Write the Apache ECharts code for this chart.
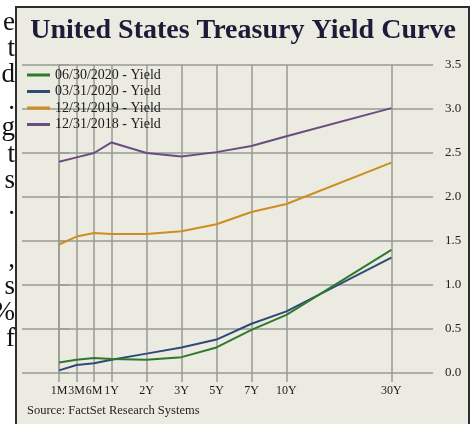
<!DOCTYPE html>
<html>
<head>
<meta charset="utf-8">
<script src="https://cdn.jsdelivr.net/npm/echarts@6/dist/echarts.min.js"></script>
<style>
html,body{margin:0;padding:0;background:#fff;}
#chart{width:474px;height:424px;}
</style>
</head>
<body>
<div id="chart"></div>
<script>
// maturities and where they sit on the (uneven) x scale
var tenorLabels=['1M','3M','6M','1Y','2Y','3Y','5Y','7Y','10Y','30Y'];
var tenorPos=[0,0.5,1,1.5,2.5,3.5,4.5,5.5,6.5,9.5];
var yTicks=[0,0.5,1,1.5,2,2.5,3,3.5];

var seriesNames=['06/30/2020 - Yield','03/31/2020 - Yield','12/31/2019 - Yield','12/31/2018 - Yield'];
var yieldJun2020=[0.12,0.15,0.17,0.16,0.15,0.18,0.29,0.49,0.66,1.40];
var yieldMar2020=[0.03,0.09,0.11,0.15,0.22,0.29,0.38,0.56,0.70,1.31];
var yieldDec2019=[1.46,1.55,1.59,1.58,1.58,1.61,1.69,1.83,1.92,2.39];
var yieldDec2018=[2.40,2.45,2.50,2.62,2.50,2.46,2.51,2.58,2.69,3.01];
var colors=['#2d7a2d','#2f4a78','#cf8c1f','#6a4c80'];

// cut-off letters of the page text left of the figure
var sideLetters=['e','t','d','.','g','t','s','.','',',','s','%','f'];

var serif='"Liberation Serif","Times New Roman",serif';
var gridColor='#9a9a96';

function pairs(vals){
	return vals.map(function(v,i){return [tenorPos[i],v];});
}

var myChart=echarts.init(document.getElementById('chart'),null,{renderer:'canvas'});

var graphics=[{
	type:'rect',
	z:-10,
	shape:{x:16,y:7,width:453,height:440},
	style:{fill:'#ECEBE1',stroke:'#2e2e2e',lineWidth:2}
},{
	type:'text',
	style:{text:'United States Treasury Yield Curve',x:243,y:17,align:'center',verticalAlign:'top',font:'bold 28px '+serif,fill:'#1c1c38'}
},{
	type:'text',
	left:27,
	top:404,
	style:{text:'Source: FactSet Research Systems',font:'12.5px '+serif,fill:'#2a2020'}
}];
sideLetters.forEach(function(ch,i){
	if(!ch) return;
	graphics.push({
		type:'text',
		z:5,
		style:{text:ch,x:15,y:36+i*26.4,font:'27px '+serif,fill:'#111',align:'right',verticalAlign:'bottom'}
	});
});

var vLines=tenorPos.map(function(p){return {xAxis:p};});

var dataLists=[yieldJun2020,yieldMar2020,yieldDec2019,yieldDec2018];
var series=dataLists.map(function(vals,i){
	var s={
		name:seriesNames[i],
		type:'line',
		data:pairs(vals),
		showSymbol:false,
		z:6-i,
		lineStyle:{color:colors[i],width:2},
		itemStyle:{color:colors[i]}
	};
	if(i===0){
		s.markLine={
			silent:true,
			symbol:['none','none'],
			label:{show:false},
			animation:false,
			lineStyle:{color:gridColor,width:1.5,type:'solid'},
			data:vLines,
			z:1
		};
	}
	return s;
});

var option={
	animation:false,
	backgroundColor:'#fff',
	graphic:graphics,
	grid:{left:22,right:41,top:65,bottom:51},
	legend:{
		orient:'vertical',
		left:27,
		top:68,
		padding:0,
		icon:'rect',
		itemWidth:23,
		itemHeight:3,
		itemGap:2.5,
		data:seriesNames,
		textStyle:{fontFamily:serif,fontSize:14,color:'#1a1a1a',lineHeight:14}
	},
	xAxis:{
		type:'value',
		min:-1.06,
		max:10.69,
		axisLine:{show:false},
		splitLine:{show:false},
		axisTick:{show:true,customValues:tenorPos,length:9,lineStyle:{color:gridColor,width:1.5}},
		axisLabel:{
			customValues:tenorPos,
			hideOverlap:false,
			margin:12,
			fontFamily:serif,
			fontSize:12,
			color:'#1a1a1a',
			formatter:function(v){
				var idx=tenorPos.indexOf(v);
				return idx>=0?tenorLabels[idx]:'';
			}
		}
	},
	yAxis:{
		type:'value',
		position:'right',
		min:yTicks[0],
		max:yTicks[yTicks.length-1],
		interval:0.5,
		axisLine:{show:true,lineStyle:{color:gridColor,width:1.5}},
		axisTick:{show:true,length:10,lineStyle:{color:gridColor,width:1.5}},
		splitLine:{show:true,lineStyle:{color:gridColor,width:1.5}},
		axisLabel:{
			margin:12,
			fontFamily:serif,
			fontSize:13,
			color:'#222',
			formatter:function(v){return v.toFixed(1);}
		}
	},
	series:series
};
myChart.setOption(option);
</script>
</body>
</html>
